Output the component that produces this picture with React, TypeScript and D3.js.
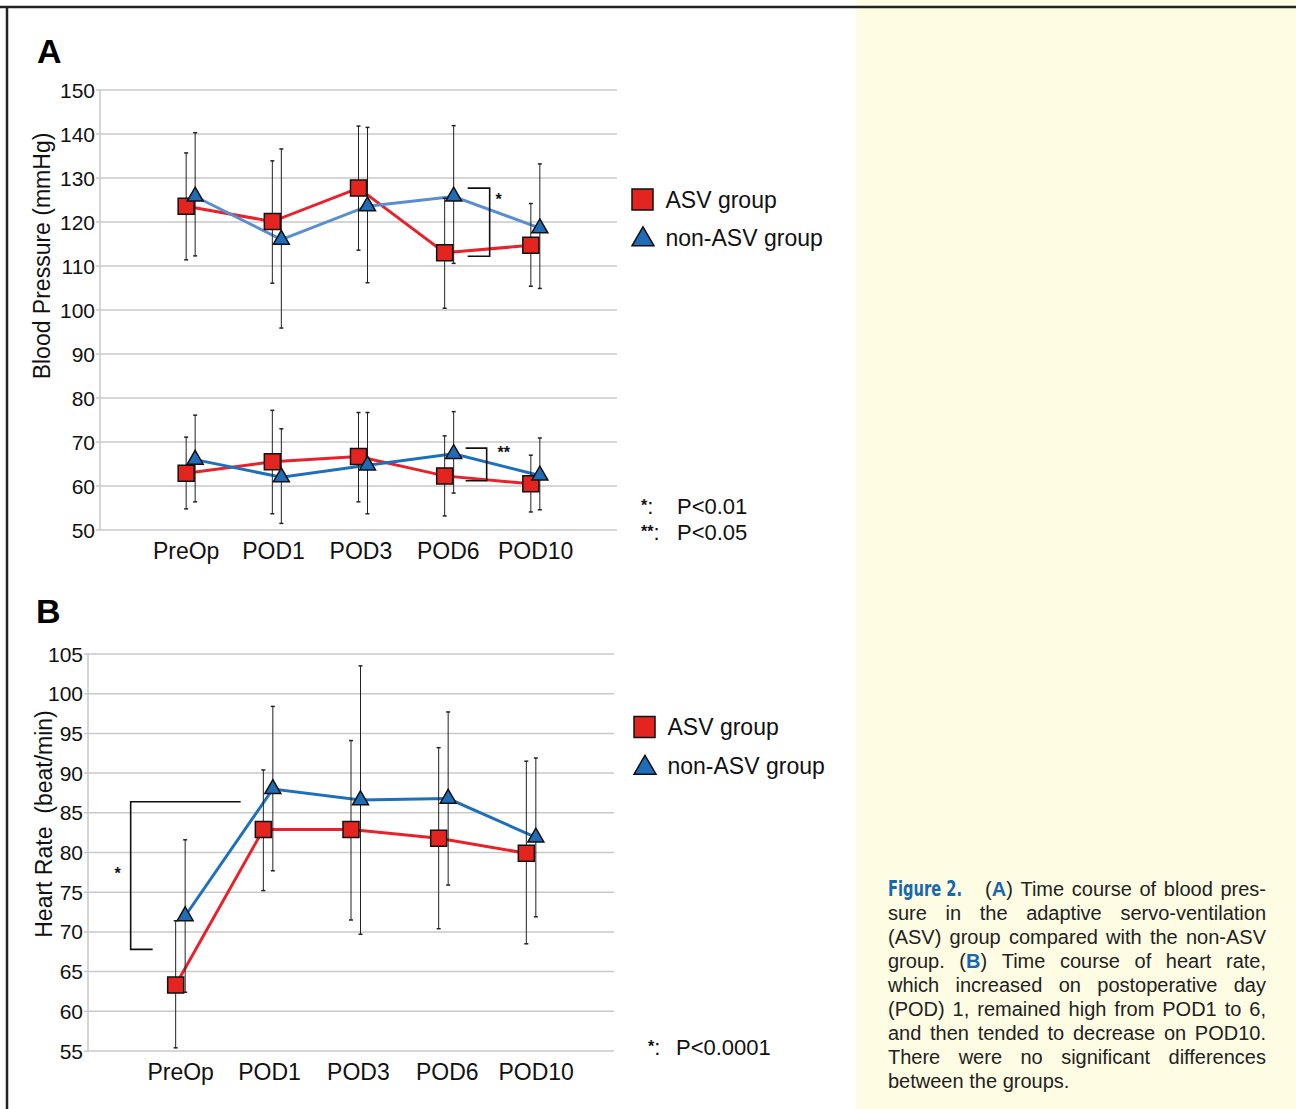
import * as d3 from 'd3';
import { useEffect, useRef } from 'react';

// categories and values
const categories = ['PreOp', 'POD1', 'POD3', 'POD6', 'POD10'];

const bpTicks = [50, 60, 70, 80, 90, 100, 110, 120, 130, 140, 150];
const asvSys = [123.6, 120.1, 127.7, 113.0, 114.7];
const asvSysHi = [135.7, 133.9, 141.8, 125.4, 124.2];
const asvSysLo = [111.4, 106.1, 113.6, 100.4, 105.4];
const nonSys = [125.8, 116.0, 123.6, 125.8, 118.6];
const nonSysHi = [140.3, 136.6, 141.5, 141.9, 133.2];
const nonSysLo = [112.3, 95.9, 106.2, 110.6, 104.9];
const asvDia = [62.9, 65.5, 66.7, 62.3, 60.5];
const asvDiaHi = [71.1, 77.2, 76.7, 71.4, 67.0];
const asvDiaLo = [54.8, 53.7, 56.4, 53.2, 54.1];
const nonDia = [66.0, 62.0, 64.7, 67.3, 62.4];
const nonDiaHi = [76.1, 73.0, 76.7, 76.9, 70.9];
const nonDiaLo = [56.4, 51.5, 53.7, 58.4, 54.6];

const hrTicks = [55, 60, 65, 70, 75, 80, 85, 90, 95, 100, 105];
const asvHr = [63.3, 82.9, 82.9, 81.8, 79.9];
const asvHrHi = [71.4, 90.4, 94.1, 93.2, 91.5];
const asvHrLo = [55.4, 75.2, 71.5, 70.4, 68.5];
const nonHr = [72.0, 88.0, 86.6, 86.8, 81.9];
const nonHrHi = [81.6, 98.4, 103.5, 97.7, 91.9];
const nonHrLo = [62.4, 77.7, 69.7, 75.9, 71.9];

const legendLabels = ['ASV group', 'non-ASV group'];

const captionLines = [
  '(**A**) Time course of blood pres-',
  'sure in the adaptive servo-ventilation',
  '(ASV) group compared with the non-ASV',
  'group. (**B**) Time course of heart rate,',
  'which increased on postoperative day',
  '(POD) 1, remained high from POD1 to 6,',
  'and then tended to decrease on POD10.',
  'There were no significant differences',
  'between the groups.',
];

const FONT = "'Liberation Sans', Arial, Helvetica, sans-serif";
const RED = '#e4251f';
const RED_LINE = '#e8222a';
const BLUE = '#1f6db8';
const BLUE_LINE = '#1f6fbf';
const BLUE_LIGHT = '#5b8ed1';
const GRID = '#c9c9c9';
const CAP_BLUE = '#1768b3';

const sq = (s: number) => d3.symbol().type(d3.symbolSquare).size(s * s)()!;
const tri = (s: number) => d3.symbol().type(d3.symbolTriangle).size((Math.sqrt(3) / 4) * s * s)()!;

type Series = { mean: number[]; hi: number[]; lo: number[]; kind: 'asv' | 'non'; color: string };

function Panel(props: {
  x: d3.ScalePoint<string>;
  y: d3.ScaleLinear<number, number>;
  ticks: number[];
  series: Series[];
  triOff: number;
  labelOff: number;
  title: string;
  titleX: number;
  titleY: number;
}) {
  const { x, y, ticks, series, triOff, labelOff, title, titleX, titleY } = props;
  const [x0, x1] = x.range();
  const [yb, yt] = y.range();
  const px = (s: Series, c: string) => x(c)! + (s.kind === 'non' ? triOff : 0);
  const line = (s: Series) =>
    d3.line<number>().x((_, i) => px(s, categories[i])).y((d) => y(d))(s.mean)!;
  const order = [...series].sort((a, b) => (a.kind === b.kind ? 0 : a.kind === 'asv' ? -1 : 1));

  return (
    <g fontFamily={FONT}>
      {ticks.map((t) => (
        <g key={t}>
          <line x1={x0 - 4} x2={x1} y1={y(t)} y2={y(t)} stroke={GRID} strokeWidth={1.5} />
          <text x={x0 - 5} y={y(t)} dy="0.36em" textAnchor="end" fontSize={21} fill="#111">
            {t}
          </text>
        </g>
      ))}
      <line x1={x0} x2={x0} y1={yt} y2={yb} stroke={GRID} strokeWidth={1.5} />
      {categories.map((c, i) => (
        <text key={c} x={x(c)! + labelOff + i * 1.2} y={yb + 29} textAnchor="middle" fontSize={23} fill="#111">
          {c}
        </text>
      ))}
      <text
        transform={`translate(${titleX},${titleY}) rotate(-90)`}
        textAnchor="middle"
        fontSize={23}
        fill="#111"
        style={{ whiteSpace: 'pre' }}
      >
        {title}
      </text>
      {order.map((s, k) => (
        <path key={'l' + k} d={line(s)} fill="none" stroke={s.color} strokeWidth={3} />
      ))}
      {series.map((s, k) =>
        categories.map((c, i) => (
          <g key={'e' + k + c} stroke="#222" strokeWidth={1}>
            <line x1={px(s, c)} x2={px(s, c)} y1={y(s.hi[i])} y2={y(s.lo[i])} />
            <line x1={px(s, c) - 2} x2={px(s, c) + 2} y1={y(s.hi[i])} y2={y(s.hi[i])} strokeWidth={1.5} />
            <line x1={px(s, c) - 2} x2={px(s, c) + 2} y1={y(s.lo[i])} y2={y(s.lo[i])} strokeWidth={1.5} />
          </g>
        ))
      )}
      {order.map((s, k) =>
        s.mean.map((v, i) => (
          <path
            key={'m' + k + i}
            transform={`translate(${px(s, categories[i])},${y(v)})`}
            d={s.kind === 'asv' ? sq(16) : tri(16)}
            fill={s.kind === 'asv' ? RED : BLUE}
            stroke="#111"
            strokeWidth={1.5}
          />
        ))
      )}
    </g>
  );
}

function Legend({ x, y, gap }: { x: number; y: number; gap: number }) {
  return (
    <g fontFamily={FONT} fontSize={23} fill="#111">
      <path transform={`translate(${x},${y})`} d={sq(21)} fill={RED} stroke="#111" strokeWidth={1.5} />
      <text x={x + 23} y={y + 8}>{legendLabels[0]}</text>
      <path transform={`translate(${x + 0.5},${y + gap + 2})`} d={tri(22)} fill={BLUE} stroke="#111" strokeWidth={1.5} />
      <text x={x + 23} y={y + gap + 8}>{legendLabels[1]}</text>
    </g>
  );
}

function Note({ x, y, stars, label, off }: { x: number; y: number; stars: string; label: string; off: number }) {
  return (
    <text x={x} y={y} fontFamily={FONT} fontSize={22} fill="#111">
      <tspan fontWeight="bold" fontSize={16} dy={-3}>{stars}</tspan>
      <tspan dy={3}>:</tspan>
      <tspan x={x + off}>{label}</tspan>
    </text>
  );
}

export default function App() {
  const capRef = useRef<SVGGElement>(null);

  const xA = d3.scalePoint<string>().domain(categories).range([100, 617]).padding(1);
  const yA = d3.scaleLinear().domain([50, 150]).range([530, 90]);
  const xB = d3.scalePoint<string>().domain(categories).range([88, 614]).padding(1);
  const yB = d3.scaleLinear().domain([55, 105]).range([1051, 654]);

  const seriesA: Series[] = [
    { mean: asvSys, hi: asvSysHi, lo: asvSysLo, kind: 'asv', color: RED_LINE },
    { mean: nonSys, hi: nonSysHi, lo: nonSysLo, kind: 'non', color: BLUE_LIGHT },
    { mean: asvDia, hi: asvDiaHi, lo: asvDiaLo, kind: 'asv', color: RED_LINE },
    { mean: nonDia, hi: nonDiaHi, lo: nonDiaLo, kind: 'non', color: BLUE_LINE },
  ];
  const seriesB: Series[] = [
    { mean: asvHr, hi: asvHrHi, lo: asvHrLo, kind: 'asv', color: RED_LINE },
    { mean: nonHr, hi: nonHrHi, lo: nonHrLo, kind: 'non', color: BLUE_LINE },
  ];

  // significance brackets (x relative to category positions, y in data units)
  const p6 = xA('POD6')!;
  const p0 = xB('PreOp')!;

  useEffect(() => {
    if (!capRef.current) return;
    const g = d3.select(capRef.current);
    g.selectAll('*').remove();
    const left = 888;
    const right = 1266;
    const top = 896;
    const lh = 24;

    g.append('text')
      .attr('x', left)
      .attr('y', top)
      .attr('font-family', "'Liberation Sans Narrow', 'DejaVu Sans Condensed', Arial, sans-serif")
      .attr('font-weight', 'bold')
      .attr('font-size', 21)
      .attr('fill', CAP_BLUE)
      .attr('textLength', 74)
      .attr('lengthAdjust', 'spacingAndGlyphs')
      .text('Figure 2.');

    captionLines.forEach((ln, i) => {
      const start = i === 0 ? 985 : left;
      const words = ln.split(' ');
      const nodes = words.map((w) => {
        const t = g
          .append('text')
          .attr('y', top + i * lh)
          .attr('font-family', FONT)
          .attr('font-size', 20)
          .attr('fill', '#222');
        w.split(/(\*\*[^*]+\*\*)/)
          .filter((p) => p.length)
          .forEach((p) => {
            const bold = p.startsWith('**');
            t.append('tspan')
              .attr('font-weight', bold ? 'bold' : null)
              .attr('fill', bold ? CAP_BLUE : null)
              .text(bold ? p.slice(2, -2) : p);
          });
        return t;
      });
      const widths = nodes.map((n) => (n.node() as SVGTextElement).getComputedTextLength());
      const total = d3.sum(widths);
      const last = i === captionLines.length - 1;
      const gap = last ? 5.6 : (right - start - total) / (words.length - 1);
      let cx = start;
      nodes.forEach((n, j) => {
        n.attr('x', cx);
        cx += widths[j] + gap;
      });
    });
  }, []);

  return (
    <svg
      width={1296}
      height={1109}
      style={{ position: 'absolute', left: 0, top: 0, display: 'block', background: '#fff' }}
    >
      <rect x={856} y={0} width={440} height={1109} fill="#fefce3" />
      <line x1={0} x2={1296} y1={7} y2={7} stroke="#222" strokeWidth={2.5} />
      <line x1={7} x2={7} y1={6} y2={1109} stroke="#222" strokeWidth={2.5} />

      <text x={37} y={63} fontFamily={FONT} fontWeight="bold" fontSize={34} fill="#000">A</text>
      <text x={36} y={623} fontFamily={FONT} fontWeight="bold" fontSize={34} fill="#000">B</text>

      <Panel x={xA} y={yA} ticks={bpTicks} series={seriesA} triOff={9} labelOff={0} title="Blood Pressure (mmHg)" titleX={50} titleY={256} />
      <Panel x={xB} y={yB} ticks={hrTicks} series={seriesB} triOff={9.5} labelOff={5} title="Heart Rate  (beat/min)" titleX={52} titleY={824} />

      <g fill="none" stroke="#111" strokeWidth={1.6}>
        <polyline points={`${p6 + 23},${yA(127.7)} ${p6 + 45},${yA(127.7)} ${p6 + 45},${yA(112.2)} ${p6 + 23},${yA(112.2)}`} />
        <polyline points={`${p6 + 21},${yA(68.6)} ${p6 + 42},${yA(68.6)} ${p6 + 42},${yA(61.2)} ${p6 + 21},${yA(61.2)}`} />
        <polyline points={`${p0 + 65},${yB(86.4)} ${p0 - 45},${yB(86.4)} ${p0 - 45},${yB(67.8)} ${p0 - 23},${yB(67.8)}`} />
      </g>
      <g fontFamily={FONT} fontWeight="bold" fontSize={16} fill="#111" textAnchor="middle">
        <text x={p6 + 54} y={yA(127.7) + 17}>*</text>
        <text x={p6 + 59} y={yA(68.6) + 10}>**</text>
        <text x={p0 - 58} y={yB(76.5) - 1}>*</text>
      </g>

      <Legend x={642.5} y={199.5} gap={38} />
      <Legend x={644.5} y={727} gap={39} />

      <Note x={641} y={514} stars="*" label="P<0.01" off={36} />
      <Note x={641} y={540} stars="**" label="P<0.05" off={36} />
      <Note x={648} y={1055} stars="*" label="P<0.0001" off={28} />

      <g ref={capRef} />
    </svg>
  );
}
